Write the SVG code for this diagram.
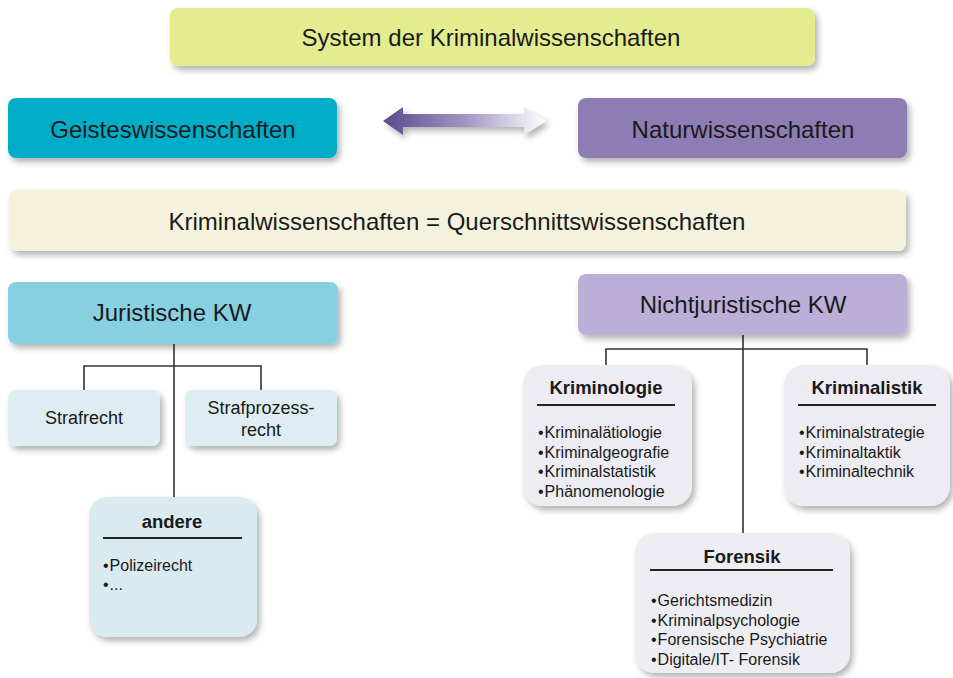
<svg xmlns="http://www.w3.org/2000/svg" width="953" height="678" viewBox="0 0 953 678">
<defs>
<filter id="sh" x="-10%" y="-20%" width="125%" height="150%">
<feDropShadow dx="3" dy="4" stdDeviation="3" flood-color="#000" flood-opacity="0.3"/>
</filter>
<linearGradient id="ag" x1="0" y1="0" x2="1" y2="0">
<stop offset="0" stop-color="#5b4a8c"/>
<stop offset="0.5" stop-color="#a195c4"/>
<stop offset="1" stop-color="#ffffff"/>
</linearGradient>
<style>
.t{font-family:"Liberation Sans",Arial,sans-serif;fill:#1a1a1a;text-anchor:middle}
.big{font-size:24px}
.mid{font-size:18px}
.hd{font-size:18.5px;font-weight:bold}
.bl{font-family:"Liberation Sans",Arial,sans-serif;fill:#1a1a1a;font-size:16px}
.ln{stroke:#333;stroke-width:1.6;fill:none}
.ul{stroke:#222;stroke-width:2}
</style>
</defs>
<rect width="953" height="678" fill="#fff"/>

<g id="connectors">
<path class="ln" d="M174 344 V497 M84 390 V366 H261 V390"/>
<path class="ln" d="M743 335 V533 M606 365 V349 H867 V365"/>
<path d="M383 121 L403 107 L403 114 L524 114 L524 107 L546 121 L524 135 L524 127 L403 127 L403 135 Z" fill="url(#ag)" filter="url(#sh)"/>
</g>

<g id="system">
<rect x="170" y="8" width="645" height="58" rx="8" fill="#e3ec8f" filter="url(#sh)"/>
<text class="t big" x="491" y="46">System der Kriminalwissenschaften</text>
</g>
<g id="geistes">
<rect x="8" y="98" width="329" height="60" rx="8" fill="#00adc8" filter="url(#sh)"/>
<text class="t big" x="173" y="138">Geisteswissenschaften</text>
</g>
<g id="natur">
<rect x="578" y="98" width="329" height="60" rx="8" fill="#8e7bb5" filter="url(#sh)"/>
<text class="t big" x="743" y="138">Naturwissenschaften</text>
</g>
<g id="quer">
<rect x="9" y="190" width="897" height="61" rx="8" fill="#f4f2dd" filter="url(#sh)"/>
<text class="t big" x="457" y="230">Kriminalwissenschaften = Querschnittswissenschaften</text>
</g>
<g id="juristische">
<rect x="8" y="282" width="330" height="62" rx="8" fill="#86d0e2" filter="url(#sh)"/>
<text class="t big" x="172" y="321">Juristische KW</text>
</g>
<g id="nichtjuristische">
<rect x="578" y="274" width="329" height="61" rx="8" fill="#bbaed7" filter="url(#sh)"/>
<text class="t big" x="743" y="313">Nichtjuristische KW</text>
</g>
<g id="strafrecht">
<rect x="8" y="390" width="152" height="56" rx="8" fill="#ddedf2" filter="url(#sh)"/>
<text class="t mid" x="84" y="424">Strafrecht</text>
</g>
<g id="strafprozessrecht">
<rect x="185" y="390" width="152" height="56" rx="8" fill="#ddedf2" filter="url(#sh)"/>
<text class="t mid" x="261" y="414">Strafprozess-</text>
<text class="t mid" x="261" y="436">recht</text>
</g>
<g id="andere">
<rect x="89" y="497" width="168" height="140" rx="18" fill="#d9eaf1" filter="url(#sh)"/>
<text class="t hd" x="172" y="528">andere</text>
<line class="ul" x1="103" y1="538" x2="242" y2="538"/>
<text class="bl" x="103" y="571">•<tspan dx="1">Polizeirecht</tspan></text>
<text class="bl" x="103" y="590">•<tspan dx="1">...</tspan></text>
</g>
<g id="kriminologie">
<rect x="523" y="365" width="169" height="141" rx="20" fill="#ececf2" filter="url(#sh)"/>
<text class="t hd" x="606" y="394">Kriminologie</text>
<line class="ul" x1="537" y1="405" x2="675" y2="405"/>
<text class="bl" x="538" y="438">•<tspan dx="1">Kriminalätiologie</tspan></text>
<text class="bl" x="538" y="458">•<tspan dx="1">Kriminalgeografie</tspan></text>
<text class="bl" x="538" y="477">•<tspan dx="1">Kriminalstatistik</tspan></text>
<text class="bl" x="538" y="497">•<tspan dx="1">Phänomenologie</tspan></text>
</g>
<g id="kriminalistik">
<rect x="784" y="365" width="166" height="141" rx="20" fill="#ececf2" filter="url(#sh)"/>
<text class="t hd" x="867" y="394">Kriminalistik</text>
<line class="ul" x1="798" y1="405" x2="936" y2="405"/>
<text class="bl" x="799" y="438">•<tspan dx="1">Kriminalstrategie</tspan></text>
<text class="bl" x="799" y="458">•<tspan dx="1">Kriminaltaktik</tspan></text>
<text class="bl" x="799" y="477">•<tspan dx="1">Kriminaltechnik</tspan></text>
</g>
<g id="forensik">
<rect x="635" y="533" width="215" height="140" rx="20" fill="#eeedf3" filter="url(#sh)"/>
<text class="t hd" x="742" y="563">Forensik</text>
<line class="ul" x1="650" y1="570" x2="833" y2="570"/>
<text class="bl" x="651" y="606">•<tspan dx="1">Gerichtsmedizin</tspan></text>
<text class="bl" x="651" y="626">•<tspan dx="1">Kriminalpsychologie</tspan></text>
<text class="bl" x="651" y="645">•<tspan dx="1">Forensische Psychiatrie</tspan></text>
<text class="bl" x="651" y="665">•<tspan dx="1">Digitale/IT- Forensik</tspan></text>
</g>
</svg>
